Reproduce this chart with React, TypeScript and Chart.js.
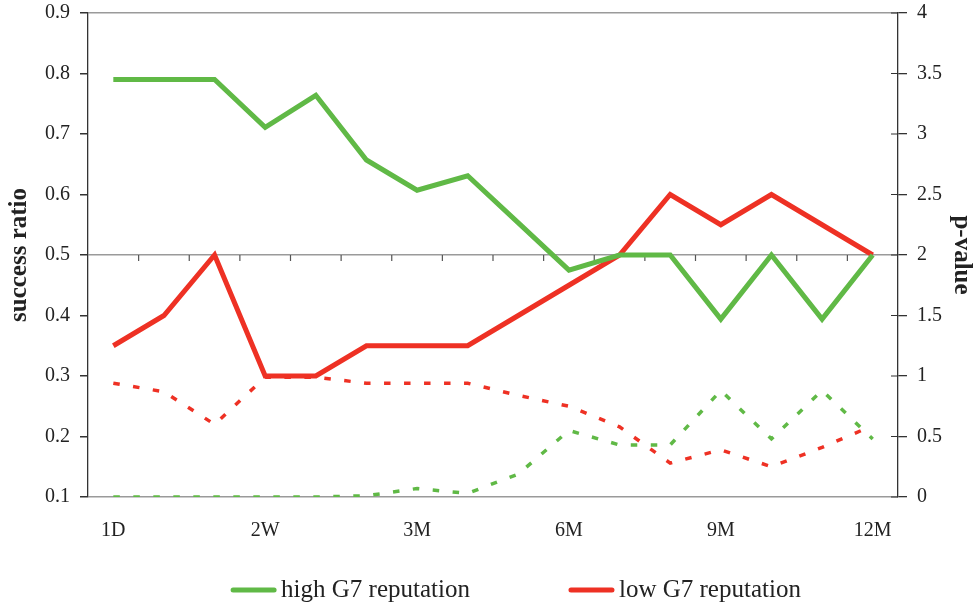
import React, { useEffect, useRef } from 'react';
import { Chart, registerables } from 'chart.js';

Chart.register(...registerables);

// ---- data ----
const categories = ['1D', '', '', '2W', '', '', '3M', '', '', '6M', '', '', '9M', '', '', '12M'];
const highSuccess = [0.79, 0.79, 0.79, 0.711, 0.764, 0.657, 0.607, 0.631, 0.553, 0.475, 0.5, 0.5, 0.394, 0.5, 0.394, 0.5];
const lowSuccess = [0.35, 0.4, 0.5, 0.3, 0.3, 0.35, 0.35, 0.35, 0.4, 0.45, 0.5, 0.6, 0.55, 0.6, 0.55, 0.5];
const highPValue = [0, 0, 0, 0, 0, 0.01, 0.07, 0.03, 0.19, 0.55, 0.43, 0.43, 0.88, 0.48, 0.88, 0.48];
const lowPValue = [0.94, 0.87, 0.6, 0.99, 0.99, 0.94, 0.94, 0.94, 0.84, 0.75, 0.58, 0.28, 0.39, 0.25, 0.41, 0.59];
const seriesLabels = ['high G7 reputation', 'low G7 reputation'];

const GREEN = '#60B946';
const RED = '#EE3124';
const FONT = "'Liberation Serif', 'Times New Roman', serif";
const TEXT = '#222222';

const axisDecor = {
  id: 'axisDecor',
  beforeDatasetsDraw(chart: any) {
    const { ctx, scales } = chart;
    const x = scales.x;
    const y = scales.y;
    const y2 = scales.y2;
    const yMid = y.getPixelForValue(0.5);
    ctx.save();
    ctx.strokeStyle = '#555555';
    ctx.lineWidth = 1.2;
    ctx.beginPath();
    for (let i = 1; i < categories.length; i++) {
      const px = (x.getPixelForValue(i - 1) + x.getPixelForValue(i)) / 2;
      ctx.moveTo(px, yMid);
      ctx.lineTo(px, yMid + 6);
    }
    ctx.stroke();
    ctx.strokeStyle = '#333333';
    ctx.beginPath();
    y2.ticks.forEach((t: any) => {
      const py = y2.getPixelForValue(t.value);
      ctx.moveTo(y2.left - 7, py);
      ctx.lineTo(y2.left, py);
    });
    ctx.stroke();
    ctx.restore();
  },
};

const customLegend = {
  id: 'customLegend',
  afterDraw(chart: any) {
    const { ctx } = chart;
    const items = chart.data.datasets.filter((d: any) => !d.borderDash);
    ctx.save();
    ctx.font = `25px ${FONT}`;
    const boxW = 45;
    const gapBox = 5;
    const gapItem = 99;
    const widths = items.map((d: any) => boxW + gapBox + ctx.measureText(d.label).width);
    const total = widths.reduce((a: number, b: number) => a + b, 0) + gapItem * (items.length - 1);
    const centerX = 516;
    const yC = 590;
    let xx = centerX - total / 2;
    items.forEach((d: any, i: number) => {
      ctx.strokeStyle = d.borderColor;
      ctx.lineWidth = 5;
      ctx.lineCap = 'round';
      ctx.beginPath();
      ctx.moveTo(xx + 2, yC);
      ctx.lineTo(xx + boxW - 2, yC);
      ctx.stroke();
      ctx.fillStyle = TEXT;
      ctx.textBaseline = 'middle';
      ctx.textAlign = 'left';
      ctx.fillText(d.label, xx + boxW + gapBox, yC);
      xx += widths[i] + gapItem;
    });
    ctx.restore();
  },
};

export default function App() {
  const ref = useRef<HTMLCanvasElement | null>(null);

  useEffect(() => {
    if (!ref.current) return;
    const near = (a: number, b: number) => Math.abs(a - b) < 1e-6;
    const chart = new Chart(ref.current, {
      type: 'line',
      data: {
        labels: categories,
        datasets: [
          {
            label: seriesLabels[0],
            data: highSuccess,
            borderColor: GREEN,
            borderWidth: 5,
            pointRadius: 0,
            tension: 0,
            yAxisID: 'y',
          },
          {
            label: seriesLabels[1],
            data: lowSuccess,
            borderColor: RED,
            borderWidth: 5,
            pointRadius: 0,
            tension: 0,
            yAxisID: 'y',
          },
          {
            label: seriesLabels[0] + ' p-value',
            data: highPValue,
            borderColor: GREEN,
            borderWidth: 3.5,
            borderDash: [6.5, 13.5],
            pointRadius: 0,
            tension: 0,
            yAxisID: 'y2',
          },
          {
            label: seriesLabels[1] + ' p-value',
            data: lowPValue,
            borderColor: RED,
            borderWidth: 3.5,
            borderDash: [6.5, 13.5],
            pointRadius: 0,
            tension: 0,
            yAxisID: 'y2',
          },
        ],
      },
      options: {
        responsive: false,
        animation: false,
        devicePixelRatio: 1,
        layout: { padding: { top: 13, left: 0, right: 0, bottom: 0 } },
        plugins: {
          legend: { display: false },
          tooltip: { enabled: false },
        },
        scales: {
          x: {
            offset: true,
            grid: { display: false, drawTicks: false },
            border: { display: false },
            ticks: {
              autoSkip: false,
              maxRotation: 0,
              padding: 22,
              color: TEXT,
              font: { family: FONT, size: 20 },
            },
            afterFit: (s: any) => {
              s.height = 112;
              s.paddingLeft = 0;
              s.paddingRight = 0;
            },
          },
          y: {
            position: 'left',
            min: 0.1,
            max: 0.9,
            ticks: {
              stepSize: 0.1,
              padding: 10,
              color: TEXT,
              font: { family: FONT, size: 20 },
              callback: (v: any) => String(Number(Number(v).toFixed(2))),
            },
            grid: {
              color: (c: any) => {
                const v = c.tick ? c.tick.value : NaN;
                return near(v, 0.1) || near(v, 0.5) || near(v, 0.9) ? '#9A9A9A' : 'rgba(0,0,0,0)';
              },
              lineWidth: 1.5,
              tickColor: '#333333',
              tickLength: 8,
            },
            border: { display: true, color: '#333333', width: 1.3 },
            title: {
              display: true,
              text: 'success ratio',
              color: TEXT,
              font: { family: FONT, size: 25, weight: 'bold' },
              padding: { top: 5, bottom: 0 },
            },
            afterFit: (s: any) => {
              s.width = 88;
              s.paddingTop = 0;
              s.paddingBottom = 0;
            },
          },
          y2: {
            position: 'right',
            min: 0,
            max: 4,
            ticks: {
              stepSize: 0.5,
              padding: 10,
              color: TEXT,
              font: { family: FONT, size: 20 },
              callback: (v: any) => String(Number(Number(v).toFixed(2))),
            },
            grid: {
              drawOnChartArea: false,
              tickColor: '#333333',
              tickLength: 9,
              lineWidth: 1.3,
            },
            border: { display: true, color: '#333333', width: 1.3 },
            title: {
              display: true,
              text: 'p-value',
              color: TEXT,
              font: { family: FONT, size: 25, weight: 'bold' },
              padding: { top: 3, bottom: 0 },
            },
            afterFit: (s: any) => {
              s.width = 81;
              s.paddingTop = 0;
              s.paddingBottom = 0;
            },
          },
        },
      },
      plugins: [axisDecor, customLegend],
    } as any);
    return () => chart.destroy();
  }, []);

  return (
    <div style={{ position: 'absolute', left: 0, top: 0, width: 979, height: 609, background: '#ffffff' }}>
      <canvas ref={ref} width={979} height={609} style={{ display: 'block' }} />
    </div>
  );
}
